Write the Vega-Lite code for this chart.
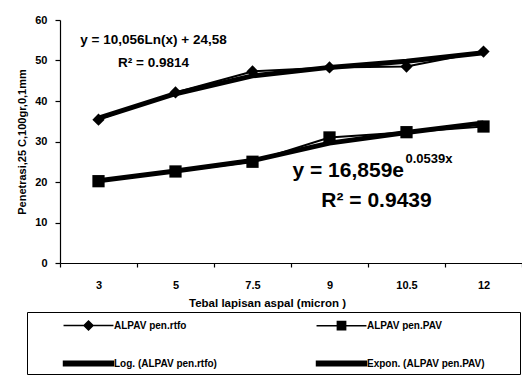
{
  "$schema": "https://vega.github.io/schema/vega-lite/v6.json",
  "width": 462,
  "height": 243,
  "autosize": {"type": "none"},
  "padding": {"left": 60, "top": 20, "right": 0, "bottom": 118},
  "background": "white",
  "config": {
    "view": {"stroke": null},
    "font": "Liberation Sans",
    "axis": {
      "domainColor": "black", "domainWidth": 1.2, "tickColor": "black", "tickWidth": 1.2,
      "labelColor": "black", "titleColor": "black", "labelFont": "Liberation Sans", "titleFont": "Liberation Sans",
      "labelFontWeight": "bold", "titleFontWeight": "bold", "labelFontSize": 11, "titleFontSize": 11, "grid": false
    }
  },
  "data": {
    "values": [
      {"x": "3", "y": 35.4, "series": "ALPAV pen.rtfo", "kind": "data"},
      {"x": "5", "y": 42.1, "series": "ALPAV pen.rtfo", "kind": "data"},
      {"x": "7.5", "y": 47.3, "series": "ALPAV pen.rtfo", "kind": "data"},
      {"x": "9", "y": 48.3, "series": "ALPAV pen.rtfo", "kind": "data"},
      {"x": "10.5", "y": 48.5, "series": "ALPAV pen.rtfo", "kind": "data"},
      {"x": "12", "y": 52.2, "series": "ALPAV pen.rtfo", "kind": "data"},
      {"x": "3", "y": 20.2, "series": "ALPAV pen.PAV", "kind": "data"},
      {"x": "5", "y": 22.6, "series": "ALPAV pen.PAV", "kind": "data"},
      {"x": "7.5", "y": 25.0, "series": "ALPAV pen.PAV", "kind": "data"},
      {"x": "9", "y": 31.0, "series": "ALPAV pen.PAV", "kind": "data"},
      {"x": "10.5", "y": 32.3, "series": "ALPAV pen.PAV", "kind": "data"},
      {"x": "12", "y": 33.7, "series": "ALPAV pen.PAV", "kind": "data"},
      {"x": "3", "y": 35.8, "series": "Log. (ALPAV pen.rtfo)", "kind": "trend"},
      {"x": "5", "y": 41.8, "series": "Log. (ALPAV pen.rtfo)", "kind": "trend"},
      {"x": "7.5", "y": 46.2, "series": "Log. (ALPAV pen.rtfo)", "kind": "trend"},
      {"x": "9", "y": 48.3, "series": "Log. (ALPAV pen.rtfo)", "kind": "trend"},
      {"x": "10.5", "y": 49.8, "series": "Log. (ALPAV pen.rtfo)", "kind": "trend"},
      {"x": "12", "y": 51.9, "series": "Log. (ALPAV pen.rtfo)", "kind": "trend"},
      {"x": "3", "y": 20.3, "series": "Expon. (ALPAV pen.PAV)", "kind": "trend"},
      {"x": "5", "y": 22.7, "series": "Expon. (ALPAV pen.PAV)", "kind": "trend"},
      {"x": "7.5", "y": 25.3, "series": "Expon. (ALPAV pen.PAV)", "kind": "trend"},
      {"x": "9", "y": 29.6, "series": "Expon. (ALPAV pen.PAV)", "kind": "trend"},
      {"x": "10.5", "y": 32.2, "series": "Expon. (ALPAV pen.PAV)", "kind": "trend"},
      {"x": "12", "y": 34.6, "series": "Expon. (ALPAV pen.PAV)", "kind": "trend"}
    ]
  },
  "encoding": {
    "x": {
      "field": "x", "type": "ordinal", "sort": ["3", "5", "7.5", "9", "10.5", "12"],
      "scale": {"type": "band", "paddingInner": 0, "paddingOuter": 0},
      "axis": {"title": "Tebal lapisan aspal (micron )", "labelAngle": 0, "tickBand": "extent", "tickSize": 4,
               "labelPadding": 12, "titleFontSize": 11.5, "titleX": 207, "titleY": 34}
    },
    "y": {
      "field": "y", "type": "quantitative",
      "scale": {"domain": [0, 60], "nice": false},
      "axis": {"title": "Penetrasi,25 C,100gr,0,1mm", "values": [0, 10, 20, 30, 40, 50, 60], "tickSize": 5,
               "labelPadding": 8, "titlePadding": 7}
    }
  },
  "layer": [
    {
      "transform": [{"filter": "datum.kind == 'trend'"}],
      "mark": {"type": "line", "strokeJoin": "round", "strokeWidth": 5},
      "encoding": {
        "detail": {"field": "series"},
        "color": {
          "field": "series", "type": "nominal",
          "scale": {"domain": ["ALPAV pen.rtfo", "Log. (ALPAV pen.rtfo)", "ALPAV pen.PAV", "Expon. (ALPAV pen.PAV)"],
                    "range": ["black", "black", "black", "black"]},
          "legend": {
            "orient": "none", "legendX": -33, "legendY": 292, "columns": 2,
            "title": "\u00a0", "titleOrient": "right", "titlePadding": 30, "titleFontSize": 10,
            "strokeColor": "black", "fillColor": "white", "padding": 5,
            "symbolSize": 225, "symbolStrokeWidth": 1.5, "symbolOffset": 48, "labelOffset": 17,
            "labelFontSize": 10, "labelFontWeight": "bold", "labelFont": "Liberation Sans", "labelColor": "black",
            "columnPadding": 68, "rowPadding": 22,
            "encode": {
              "symbols": {
                "update": {
                  "shape": {"signal": "datum.value == 'ALPAV pen.rtfo' ? 'M-3.33,0H3.33M0,-0.6L0.6,0L0,0.6L-0.6,0Z' : (datum.value == 'ALPAV pen.PAV' ? 'M-3.33,0H3.33M-0.55,-0.55H0.55V0.55H-0.55Z' : 'M-3.33,-0.3H3.33V0.3H-3.33Z')"},
                  "fill": {"value": "black"},
                  "stroke": {"value": "black"},
                  "strokeWidth": {"value": 1.5}
                }
              }
            }
          }
        }
      }
    },
    {
      "transform": [{"filter": "datum.kind == 'data'"}],
      "mark": {"type": "line", "strokeJoin": "round", "strokeWidth": 2},
      "encoding": {
        "detail": {"field": "series"},
        "color": {"field": "series", "type": "nominal"}
      }
    },
    {
      "transform": [{"filter": "datum.kind == 'data'"}],
      "mark": {"type": "point", "filled": true, "color": "black", "opacity": 1, "size": 150},
      "encoding": {
        "shape": {
          "field": "series", "type": "nominal",
          "scale": {"domain": ["ALPAV pen.rtfo", "ALPAV pen.PAV"], "range": ["diamond", "square"]},
          "legend": null
        }
      }
    },
    {
      "data": {"values": [
        {"x": "5", "y": 55.1, "t": "y = 10,056Ln(x) + 24,58"},
        {"x": "5", "y": 49.4, "t": "R² = 0.9814"}
      ]},
      "mark": {"type": "text", "font": "Liberation Sans", "fontWeight": "bold", "fontSize": 13.5, "color": "black", "dx": -22},
      "encoding": {"text": {"field": "t"}, "y": {"field": "y", "type": "quantitative"}}
    },
    {
      "data": {"values": [{"x": "9", "y": 22.8, "t": "y = 16,859e"}]},
      "mark": {"type": "text", "font": "Liberation Sans", "fontWeight": "bold", "fontSize": 21, "color": "black", "align": "left", "dx": -37},
      "encoding": {"text": {"field": "t"}, "y": {"field": "y", "type": "quantitative"}}
    },
    {
      "data": {"values": [{"x": "10.5", "y": 25.8, "t": "0.0539x"}]},
      "mark": {"type": "text", "font": "Liberation Sans", "fontWeight": "bold", "fontSize": 13, "color": "black", "align": "left", "dx": -1},
      "encoding": {"text": {"field": "t"}, "y": {"field": "y", "type": "quantitative"}}
    },
    {
      "data": {"values": [{"x": "9", "y": 15.2, "t": "R² = 0.9439"}]},
      "mark": {"type": "text", "font": "Liberation Sans", "fontWeight": "bold", "fontSize": 21, "color": "black", "dx": 47},
      "encoding": {"text": {"field": "t"}, "y": {"field": "y", "type": "quantitative"}}
    }
  ]
}
